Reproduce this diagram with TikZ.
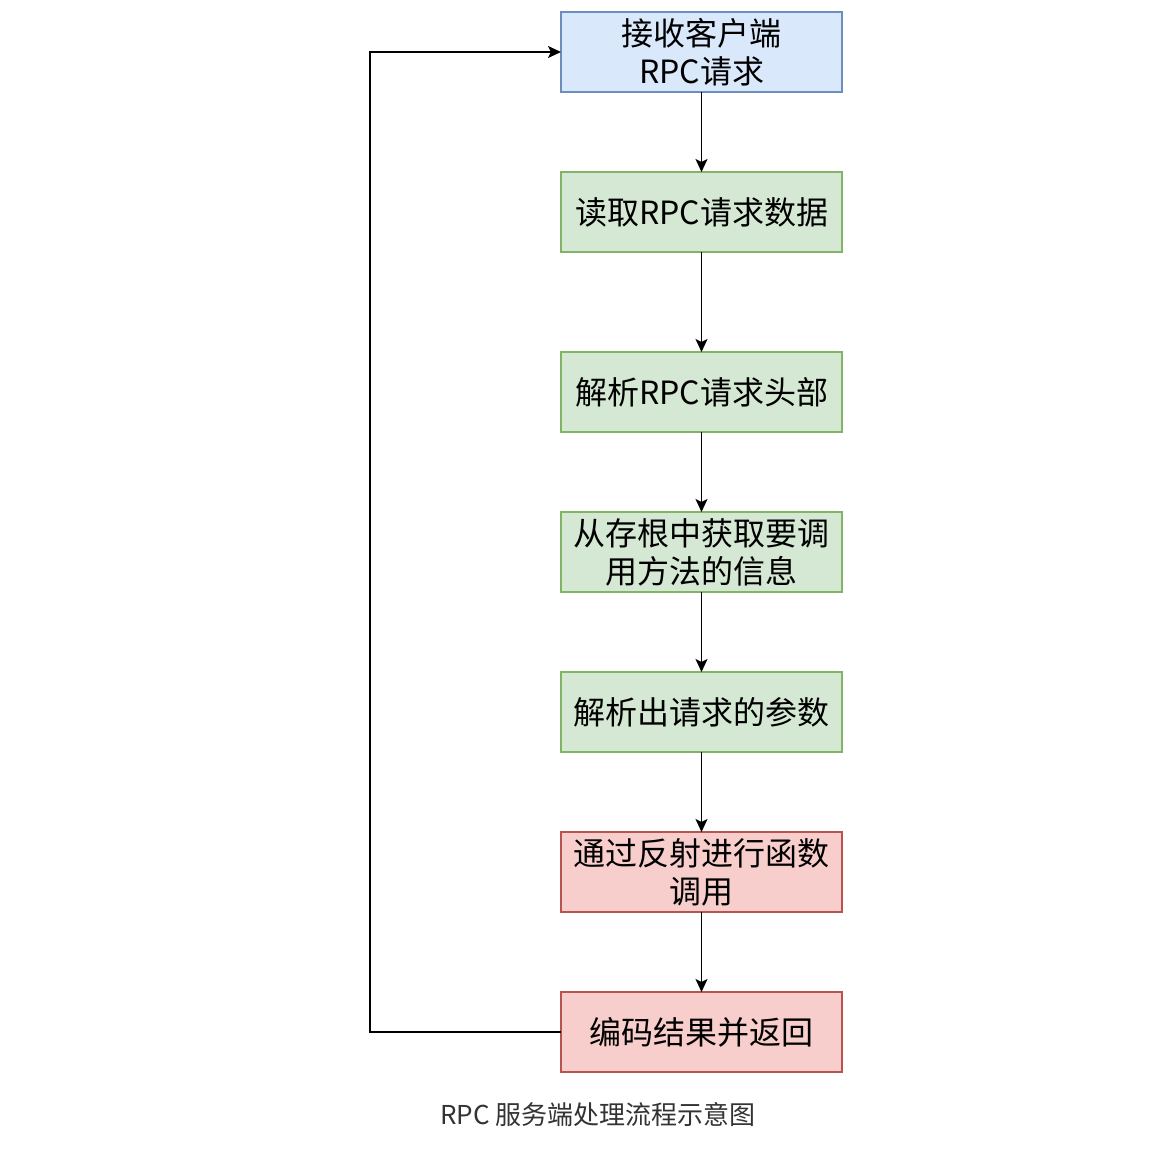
\documentclass[tikz,border=0pt]{standalone}
\usepackage{fontspec}
\setmainfont{Noto Sans CJK SC}
\usepackage{xcolor}
\definecolor{blueFill}{HTML}{DAE8FC}
\definecolor{blueLine}{HTML}{6C8EBF}
\definecolor{greenFill}{HTML}{D5E8D4}
\definecolor{greenLine}{HTML}{82B366}
\definecolor{redFill}{HTML}{F8CECC}
\definecolor{redLine}{HTML}{B85450}
\definecolor{capText}{HTML}{333333}
\usepackage{tikz}
\usetikzlibrary{arrows.meta,positioning}
\tikzset{
  box/.style={draw,line width=1.5pt,minimum width=281pt,minimum height=80pt,%
    inner sep=2pt,outer sep=0pt,align=center,font=\fontsize{32}{38}\selectfont},
  start/.style={box,fill=blueFill,draw=blueLine},
  work/.style={box,fill=greenFill,draw=greenLine},
  finish/.style={box,fill=redFill,draw=redLine},
  flow/.style={-{Stealth[length=13pt,width=12pt,inset=3pt]},line width=1.8pt,draw=black},
}

\begin{document}
\begin{tikzpicture}[x=1pt,y=1pt,node distance=80pt]
\useasboundingbox (0,0) rectangle (1165,-1167);
\node[start] (recv) at (701.5,-52) {接收客户端\\RPC请求};
\node[work,below=of recv] (read) {读取RPC请求数据};
\node[work,below=100pt of read] (head) {解析RPC请求头部};
\node[work,below=of head] (stub) {从存根中获取要调\\用方法的信息};
\node[work,below=of stub] (args) {解析出请求的参数};
\node[finish,below=of args] (call) {通过反射进行函数\\调用};
\node[finish,below=of call] (ret) {编码结果并返回};
\node[font=\fontsize{26}{30}\selectfont,text=capText] (cap) at (598,-1115) {RPC 服务端处理流程示意图};
\draw[flow] (recv) -- (read);
\draw[flow] (read) -- (head);
\draw[flow] (head) -- (stub);
\draw[flow] (stub) -- (args);
\draw[flow] (args) -- (call);
\draw[flow] (call) -- (ret);
\draw[flow] (ret.west) -- ++(-191,0) |- (recv.west);
\end{tikzpicture}
\end{document}
